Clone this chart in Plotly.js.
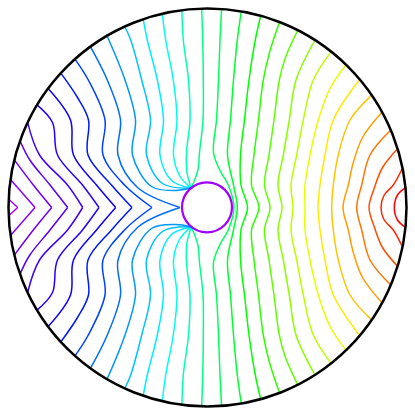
<!DOCTYPE html>
<html>
<head>
<meta charset="utf-8">
<script src="https://cdn.plot.ly/plotly-3.0.1.min.js"></script>
<style>
  html, body { margin: 0; padding: 0; background: #fff; }
  #plot { width: 415px; height: 415px; }
</style>
</head>
<body>
<div id="plot"></div>
<script>
/* contour levels of the field (0 at the right rim, pi at the left) */
var LEVELS = [0.1, 0.2, 0.3, 0.4, 0.5, 0.6, 0.7, 0.8, 0.9, 1.0,
              1.1, 1.2, 1.3, 1.4, 1.5, 1.6, 1.7, 1.8, 1.9, 2.0,
              2.1, 2.2, 2.3, 2.4, 2.5, 2.6, 2.7, 2.8, 2.9, 3.0, 3.1];

/* upper half of every contour, rim first; units: outer radius = 199, centre at 0,0 */
var L01 = [[198, 19.9], [190, 12.5], [186.8, 0]];
var L02 = [[195, 39.5], [185.8, 22.5], [176.4, 12], [173.5, 0]];
var L03 = [[190.1, 58.8], [175, 40], [167, 20], [161.5, 0]];
var L04 = [[183.3, 77.5], [162.5, 52.5], [154.2, 22.5], [149.2, 0]];
var L05 = [[174.6, 95.4], [155, 70], [145.8, 45], [140.8, 22.5], [135.5, 0]];
var L06 = [[164.2, 112.4], [142.5, 87.5], [130.8, 52.5], [125.8, 22.5], [124.2, 0]];
var L07 = [[152.2, 128.2], [125.8, 87.5], [117.5, 52.5], [112.5, 22.5], [110.5, 0]];
var L08 = [[138.6, 142.8], [123, 120], [110.8, 87.5], [102.5, 52.5], [97.5, 22.5], [97.5, 0]];
var L09 = [[123.7, 155.9], [105.8, 127.5], [95.8, 87.5], [89.2, 52.5], [83.5, 22.5], [85.5, 0]];
var L10 = [[107.5, 167.5], [88.5, 127.5], [81.8, 87.5], [75.8, 52.5], [70.5, 22.5], [74.5, 0]];
var L11 = [[90.3, 177.3], [78, 150], [71.8, 127.5], [66.5, 87.5], [61.5, 52.5], [57, 22.5], [62.5, 0]];
var L12 = [[72.1, 185.5], [62, 155], [55.8, 127.5], [51, 87.5], [46.5, 52.5], [44, 22.5], [51.5, 0]];
var L13 = [[53.2, 191.8], [47.8, 167.5], [41.5, 127.5], [37, 87.5], [33, 52.5], [33.5, 22.5], [40, 0]];
var L14 = [[33.8, 196.1], [29.8, 167.5], [26, 127.5], [23, 87.5], [20, 52.5], [26, 22.5], [29.8, 0]];
var L15 = [[14.1, 198.5], [12.5, 167.5], [11, 127.5], [9, 87.5], [6, 55], [12.5, 37], [20.8, 22.5], [26.5, 0]];
var L16 = [[-5.8, 198.9], [-4.8, 167.5], [-4.2, 127.5], [-4.5, 87.5], [-8, 55], [-9.5, 38], [-13, 27], [-16.6, 19.4]];
var L17 = [[-25.6, 197.3], [-24.2, 167.5], [-19, 127.5], [-17.5, 87.5], [-21, 55], [-20.5, 35], [-18, 25], [-16.6, 19.4]];
var L18 = [[-45.2, 193.8], [-41.8, 167.5], [-34.2, 127.5], [-30.5, 87.5], [-34, 52.5], [-28, 32], [-16.6, 19.4]];
var L19 = [[-64.3, 188.3], [-60.2, 167.5], [-50.2, 127.5], [-44, 87.5], [-47.5, 52.5], [-36, 27], [-16.6, 19.4]];
var L20 = [[-82.8, 181], [-76.8, 167.5], [-65.8, 127.5], [-57, 87.5], [-61, 52.5], [-45, 24], [-16.6, 19.4]];
var L21 = [[-100.5, 171.8], [-82.5, 127.5], [-72, 87.5], [-75, 52.5], [-56, 21], [-32, 17], [-16.6, 19.4]];
var L22 = [[-117.1, 160.9], [-100.2, 127.5], [-87, 87.5], [-89.5, 52.5], [-70, 20], [-27.5, 0]];
var L23 = [[-132.6, 148.4], [-119.2, 127.5], [-102.5, 87.5], [-104.5, 52.5], [-83, 22.5], [-55.5, 0]];
var L24 = [[-146.7, 134.4], [-130, 110], [-119, 87.5], [-119.5, 52.5], [-96, 22.5], [-75.5, 0]];
var L25 = [[-159.4, 119.1], [-137, 87.5], [-134, 52.5], [-111, 22.5], [-91.8, 0]];
var L26 = [[-170.5, 102.6], [-155, 85], [-150, 52.5], [-125, 22.5], [-108.5, 0]];
var L27 = [[-179.9, 85.1], [-168, 52.5], [-140, 22.5], [-124.8, 0]];
var L28 = [[-187.5, 66.7], [-178, 48], [-157.5, 22.5], [-139.8, 0]];
var L29 = [[-193.2, 47.6], [-174.2, 22.5], [-155.8, 0]];
var L30 = [[-197, 28.1], [-172.5, 0]];
var L31 = [[-198.8, 8.3], [-189.8, 0]];

var PATHS = [L01, L02, L03, L04, L05, L06, L07, L08, L09, L10,
             L11, L12, L13, L14, L15, L16, L17, L18, L19, L20,
             L21, L22, L23, L24, L25, L26, L27, L28, L29, L30, L31];

// geometry of the disk and the hole
var R_OUT = 199;
var HOLE_X = -0.5, HOLE_Y = 0.2, HOLE_R = 25;
// contours up to this level pass smoothly across the axis, the rest meet it in a point
var JOIN_MAX = 1.5;

// colour ramp, level -> rgb
var STOPS = [
  [0.1, [255, 0, 0]],
  [0.75, [255, 255, 0]],
  [1.3, [0, 255, 0]],
  [1.86, [0, 255, 255]],
  [2.45, [0, 0, 255]],
  [3.1, [160, 0, 255]]
];

function colorAt(v) {
  if (v <= STOPS[0][0]) return 'rgb(' + STOPS[0][1].join(',') + ')';
  for (var i = 1; i < STOPS.length; i++) {
    if (v <= STOPS[i][0]) {
      var a = STOPS[i - 1], b = STOPS[i];
      var t = (v - a[0]) / (b[0] - a[0]);
      var c = a[1].map(function (ch, k) { return Math.round(ch + t * (b[1][k] - ch)); });
      return 'rgb(' + c.join(',') + ')';
    }
  }
  return 'rgb(' + STOPS[STOPS.length - 1][1].join(',') + ')';
}

var data = [];
LEVELS.forEach(function (lv, i) {
  var up = PATHS[i];
  var ln = { color: colorAt(lv), width: 1.5, shape: 'spline', smoothing: 1 };
  var xs = up.map(function (p) { return p[0]; });
  var ys = up.map(function (p) { return p[1]; });
  if (lv <= JOIN_MAX) {
    // mirror the upper half below the axis and run on through it
    for (var k = up.length - 2; k >= 0; k--) {
      xs.push(up[k][0]);
      ys.push(-up[k][1]);
    }
    data.push({ x: xs, y: ys, mode: 'lines', line: ln, hoverinfo: 'skip' });
  } else {
    data.push({ x: xs, y: ys, mode: 'lines', line: ln, hoverinfo: 'skip' });
    data.push({ x: xs.slice(), y: ys.map(function (v) { return -v; }), mode: 'lines', line: ln, hoverinfo: 'skip' });
  }
});

var layout = {
  width: 415,
  height: 415,
  margin: { l: 0, r: 0, t: 0, b: 0 },
  paper_bgcolor: '#fff',
  plot_bgcolor: '#fff',
  showlegend: false,
  xaxis: { range: [-207.5, 207.5], visible: false, fixedrange: true },
  yaxis: { range: [-207.5, 207.5], visible: false, fixedrange: true },
  shapes: [
    { type: 'circle', xref: 'x', yref: 'y',
      x0: HOLE_X - HOLE_R, x1: HOLE_X + HOLE_R, y0: HOLE_Y - HOLE_R, y1: HOLE_Y + HOLE_R,
      line: { color: 'rgb(160,0,255)', width: 2.2 }, fillcolor: '#fff' },
    { type: 'circle', xref: 'x', yref: 'y',
      x0: -R_OUT, x1: R_OUT, y0: -R_OUT, y1: R_OUT,
      line: { color: '#000', width: 2.5 } }
  ]
};

Plotly.newPlot('plot', data, layout, { staticPlot: true });
</script>
</body>
</html>
